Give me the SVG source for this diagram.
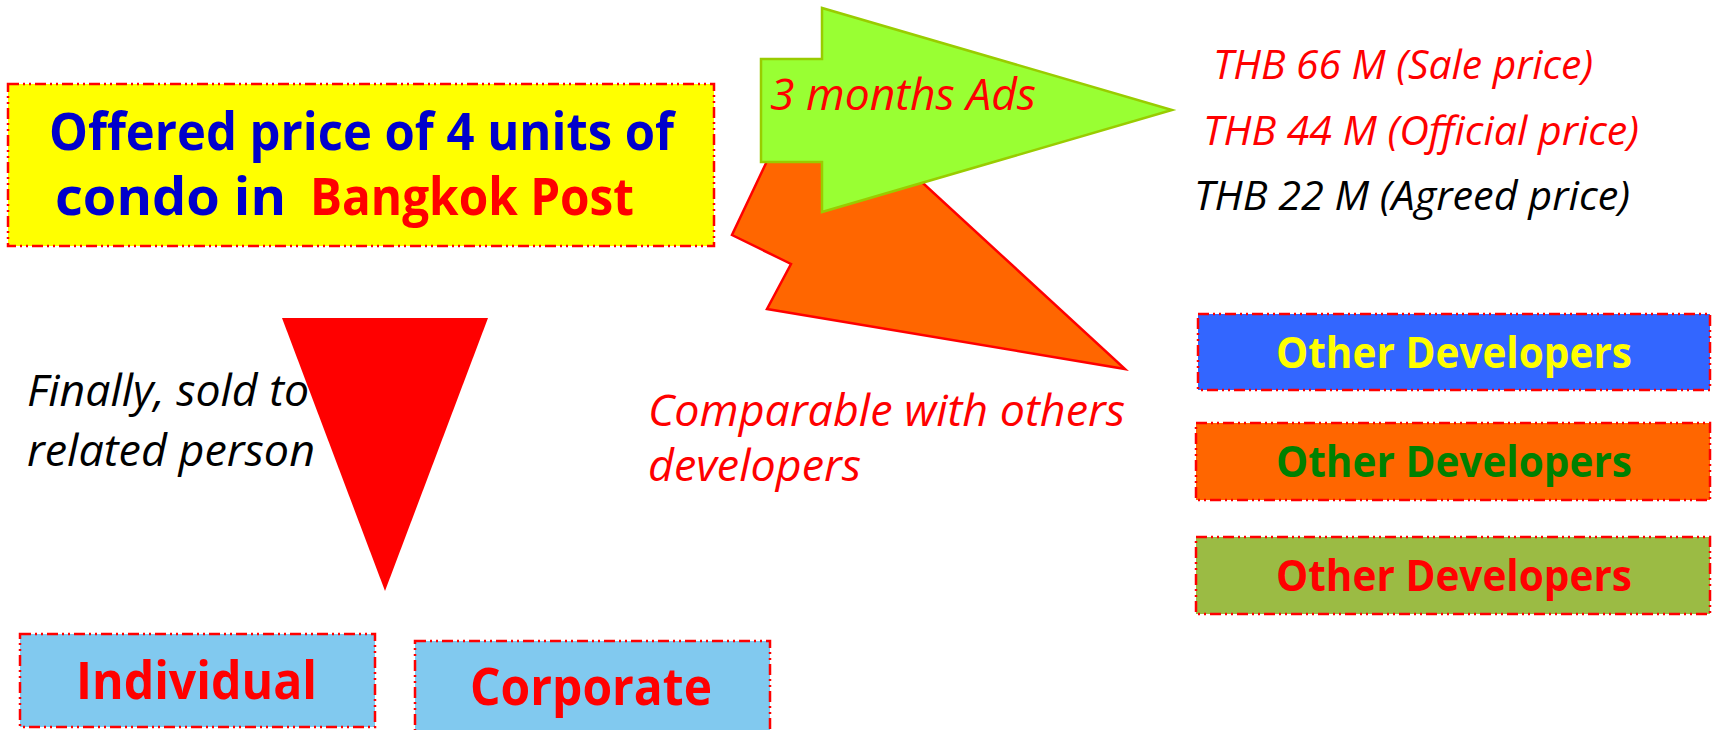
<svg xmlns="http://www.w3.org/2000/svg" width="1713" height="730" viewBox="0 0 1713 730">
<style>
.box{stroke:#FF0000;stroke-width:2.5;stroke-dasharray:11 4 2 4 2 4}
.b{font-family:"Open Sans","Noto Sans",sans-serif;font-weight:bold}
.i{font-family:"Open Sans","Noto Sans",sans-serif;font-style:italic}
</style>
<rect width="1713" height="730" fill="#FFFFFF"/>
<g id="connectors">
<polygon id="orange-arrow" points="777,140 732,235 791,264 767,309 1125,369 850,116" fill="#FF6600" stroke="#FF0000" stroke-width="2.5" stroke-linejoin="miter"/>
<polygon id="green-arrow" points="761,59 822,59 822,8 1172,110 822,212 822,162 761,162" fill="#99FF33" stroke="#99CC00" stroke-width="2.5"/>
<text class="i" x="770" y="110" font-size="43" fill="#FF0000" textLength="266" lengthAdjust="spacingAndGlyphs">3 months Ads</text>
<text class="i" x="648" y="426" font-size="43" fill="#FF0000" textLength="477" lengthAdjust="spacingAndGlyphs">Comparable with others</text>
<text class="i" x="648" y="481" font-size="43" fill="#FF0000" textLength="213" lengthAdjust="spacingAndGlyphs">developers</text>
<text class="i" x="27" y="406" font-size="43" fill="#000000" textLength="282" lengthAdjust="spacingAndGlyphs">Finally, sold to</text>
<text class="i" x="27" y="466" font-size="43" fill="#000000" textLength="288" lengthAdjust="spacingAndGlyphs">related person</text>
<polygon id="red-down-arrow" points="282,318 488,318 385,591" fill="#FF0000"/>
</g>
<g id="offer">
<rect class="box" x="8" y="84" width="706" height="162" fill="#FFFF00"/>
<text class="b" x="49" y="150" font-size="52" fill="#0000CC" textLength="625" lengthAdjust="spacingAndGlyphs">Offered price of 4 units of</text>
<text class="b" x="55" y="215" font-size="52" fill="#0000CC" textLength="231" lengthAdjust="spacingAndGlyphs">condo in</text>
<text class="b" x="310" y="215" font-size="52" fill="#FF0000" textLength="324" lengthAdjust="spacingAndGlyphs">Bangkok Post</text>
</g>
<g id="prices">
<text class="i" x="1213" y="79" font-size="40" fill="#FF0000" textLength="380" lengthAdjust="spacingAndGlyphs">THB 66 M (Sale price)</text>
<text class="i" x="1203" y="145" font-size="40" fill="#FF0000" textLength="436" lengthAdjust="spacingAndGlyphs">THB 44 M (Official price)</text>
<text class="i" x="1194" y="210" font-size="40" fill="#000000" textLength="436" lengthAdjust="spacingAndGlyphs">THB 22 M (Agreed price)</text>
</g>
<g id="dev1">
<rect class="box" x="1198" y="314" width="512" height="76" fill="#3366FF"/>
<text class="b" x="1276" y="368" font-size="43" fill="#FFFF00" textLength="356" lengthAdjust="spacingAndGlyphs">Other Developers</text>
</g>
<g id="dev2">
<rect class="box" x="1196" y="423" width="514" height="77" fill="#FF6600"/>
<text class="b" x="1276" y="477" font-size="43" fill="#008000" textLength="356" lengthAdjust="spacingAndGlyphs">Other Developers</text>
</g>
<g id="dev3">
<rect class="box" x="1196" y="537" width="514" height="77" fill="#9BBB44"/>
<text class="b" x="1276" y="591" font-size="43" fill="#FF0000" textLength="356" lengthAdjust="spacingAndGlyphs">Other Developers</text>
</g>
<g id="individual">
<rect class="box" x="20" y="634" width="355" height="93" fill="#81C9EF"/>
<text class="b" x="76" y="699" font-size="52" fill="#FF0000" textLength="241" lengthAdjust="spacingAndGlyphs">Individual</text>
</g>
<g id="corporate">
<rect class="box" x="415" y="641" width="355" height="92" fill="#81C9EF"/>
<text class="b" x="470" y="705" font-size="52" fill="#FF0000" textLength="242" lengthAdjust="spacingAndGlyphs">Corporate</text>
</g>
</svg>
